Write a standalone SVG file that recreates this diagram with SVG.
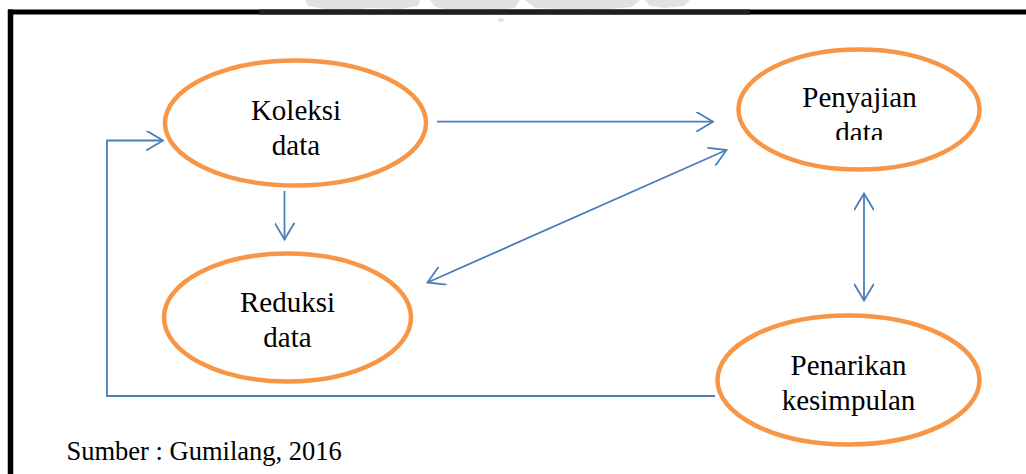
<svg xmlns="http://www.w3.org/2000/svg" width="1026" height="474" viewBox="0 0 1026 474">
  <style>
    .node { fill: #ffffff; stroke: #F79646; stroke-width: 4.5; }
    .label { font-family: "Liberation Serif", "Times New Roman", serif; font-size: 29px; fill: #000000; text-anchor: middle; }
    .source { font-family: "Liberation Serif", "Times New Roman", serif; font-size: 26.5px; fill: #000000; }
    .link { fill: none; stroke: #4A7EBB; stroke-width: 1.8; }
    .head { fill: none; stroke: #4A7EBB; stroke-width: 1.8; stroke-linecap: round; stroke-linejoin: miter; }
  </style>
  <defs>
    <marker id="chevron" viewBox="0 0 20 20" refX="18" refY="10" markerWidth="20" markerHeight="20" markerUnits="userSpaceOnUse" orient="auto-start-reverse">
      <path d="M2,0.5 L18,10 L2,19.5" class="head"/>
    </marker>
    <clipPath id="clipPenyajian">
      <rect x="700" y="40" width="320" height="100"/>
    </clipPath>
  </defs>

  <rect width="1026" height="474" fill="#ffffff"/>

  <!-- faint stamp at the top edge -->
  <g id="stamp" fill="#e2e2e2">
    <path d="M305,0 L420,0 L418,6 L400,9 L370,8 L350,10 L325,9 L308,6 Z"/>
    <path d="M430,0 L520,0 L515,8 L495,10 L470,9 L450,10 L435,7 Z"/>
    <path d="M525,0 L640,0 L632,7 L610,9 L585,10 L560,9 L535,8 Z"/>
    <path d="M645,0 L690,0 L684,6 L665,8 L650,6 Z"/>
    <ellipse cx="501" cy="20" rx="3" ry="2"/>
  </g>

  <!-- frame -->
  <g id="frame">
    <line x1="8" y1="12" x2="1026" y2="12" stroke="#000000" stroke-width="5"/>
    <line x1="259" y1="12" x2="750" y2="12" stroke="#1e1e1e" stroke-width="5"/>
    <line x1="10.5" y1="9.5" x2="10.5" y2="474" stroke="#000000" stroke-width="5.5"/>
  </g>

  <g id="connectors">
    <!-- Koleksi data -> Penyajian data -->
    <line class="link" x1="437" y1="121.7" x2="713" y2="121.7" marker-end="url(#chevron)"/>
    <!-- Reduksi data <-> Penyajian data -->
    <line class="link" x1="427.5" y1="282.5" x2="726.5" y2="150" marker-start="url(#chevron)" marker-end="url(#chevron)"/>
    <!-- Koleksi data -> Reduksi data -->
    <line class="link" x1="284.5" y1="191" x2="284.5" y2="239.5" marker-end="url(#chevron)"/>
    <!-- Penyajian data <-> Penarikan kesimpulan -->
    <line class="link" x1="864" y1="193.5" x2="864" y2="300.5" marker-start="url(#chevron)" marker-end="url(#chevron)"/>
    <!-- Penarikan kesimpulan -> Koleksi data (feedback loop) -->
    <polyline class="link" points="715,396 107,396 107,140.5 163,140.5" marker-end="url(#chevron)"/>
  </g>

  <g id="koleksi">
    <ellipse class="node" cx="295.5" cy="123" rx="130.5" ry="62.5"/>
    <text class="label" x="296" y="120">Koleksi</text>
    <text class="label" x="296" y="155">data</text>
  </g>

  <g id="reduksi">
    <ellipse class="node" cx="287.5" cy="317.5" rx="123.5" ry="64"/>
    <text class="label" x="287.5" y="311.5">Reduksi</text>
    <text class="label" x="287.5" y="346.5">data</text>
  </g>

  <g id="penyajian">
    <ellipse class="node" cx="859" cy="109.5" rx="120.5" ry="60"/>
    <g clip-path="url(#clipPenyajian)">
      <text class="label" x="859.5" y="106.5">Penyajian</text>
      <text class="label" x="859.5" y="141.5">data</text>
    </g>
  </g>

  <g id="penarikan">
    <ellipse class="node" cx="848.5" cy="380" rx="131" ry="64.5"/>
    <text class="label" x="848.5" y="375">Penarikan</text>
    <text class="label" x="848.5" y="410">kesimpulan</text>
  </g>

  <text class="source" x="66.5" y="460">Sumber : Gumilang, 2016</text>
</svg>
